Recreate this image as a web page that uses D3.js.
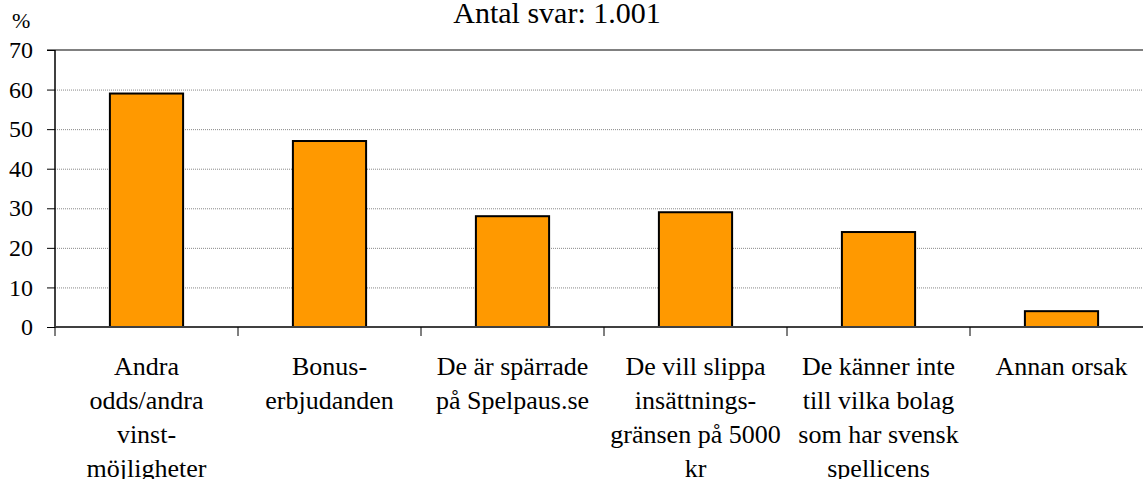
<!DOCTYPE html>
<html>
<head>
<meta charset="utf-8">
<script src="https://cdn.jsdelivr.net/npm/d3@7"></script>
<style>
  body { margin: 0; background: #fff; }
  text { font-family: "Liberation Serif", "Times New Roman", serif; fill: #000; }
</style>
</head>
<body>
<div id="chart"></div>
<script>
var categories = [
  ["Andra", "odds/andra", "vinst-", "möjligheter"],
  ["Bonus-", "erbjudanden"],
  ["De är spärrade", "på Spelpaus.se"],
  ["De vill slippa", "insättnings-", "gränsen på 5000", "kr"],
  ["De känner inte", "till vilka bolag", "som har svensk", "spellicens"],
  ["Annan orsak"]
];
var values = [59, 47, 28, 29, 24, 4];
var yTicks = [0, 10, 20, 30, 40, 50, 60, 70];
var title = "Antal svar: 1.001";

var width = 1143, height = 479;
var plotLeft = 55, plotRight = 1153, plotTop = 50, plotBottom = 327;
var serif = '"Liberation Serif", "Times New Roman", serif';

var svg = d3.select('#chart').append('svg')
  .attr('width', width)
  .attr('height', height);

var x = d3.scaleBand()
  .domain(d3.range(values.length))
  .range([plotLeft, plotRight])
  .paddingInner(0.6)
  .paddingOuter(0.3);

var xEdge = d3.scaleLinear()
  .domain([0, values.length])
  .range([plotLeft, plotRight]);

var y = d3.scaleLinear()
  .domain([0, 70])
  .range([plotBottom, plotTop]);

// gridlines
svg.append('g')
  .selectAll('line')
  .data(yTicks.filter(function(d) { return d > 0 && d < 70; }))
  .enter().append('line')
  .attr('x1', plotLeft).attr('x2', width)
  .attr('y1', function(d) { return y(d) + 0.5; })
  .attr('y2', function(d) { return y(d) + 0.5; })
  .style('stroke', '#888')
  .style('stroke-width', 1)
  .style('stroke-dasharray', '1,1');

// top border line
svg.append('line')
  .attr('x1', plotLeft - 8).attr('x2', width)
  .attr('y1', y(70)).attr('y2', y(70))
  .style('stroke', '#808080')
  .style('stroke-width', 2);

// bars
svg.append('g')
  .selectAll('rect')
  .data(values)
  .enter().append('rect')
  .attr('x', function(d, i) { return x(i); })
  .attr('width', x.bandwidth())
  .attr('y', function(d) { return y(d); })
  .attr('height', function(d) { return y(0) - y(d); })
  .style('fill', '#FF9900')
  .style('stroke', '#000')
  .style('stroke-width', 2);

// y axis
var yAxis = d3.axisLeft(y)
  .tickValues(yTicks)
  .tickSize(8)
  .tickPadding(14);

var gy = svg.append('g')
  .attr('transform', 'translate(' + plotLeft + ',0)')
  .call(yAxis);
gy.select('.domain').remove();
gy.selectAll('line').style('stroke', '#000');
gy.selectAll('text')
  .style('font-size', '24px')
  .style('font-family', serif);

svg.append('line')
  .attr('x1', plotLeft).attr('x2', plotLeft)
  .attr('y1', plotTop).attr('y2', plotBottom)
  .style('stroke', '#000')
  .style('stroke-width', 1.5);

// x axis line
svg.append('line')
  .attr('x1', plotLeft).attr('x2', width)
  .attr('y1', plotBottom).attr('y2', plotBottom)
  .style('stroke', '#404040')
  .style('stroke-width', 2);

// category ticks
svg.append('g')
  .selectAll('line')
  .data(d3.range(values.length + 1))
  .enter().append('line')
  .attr('x1', function(d) { return xEdge(d); })
  .attr('x2', function(d) { return xEdge(d); })
  .attr('y1', plotBottom)
  .attr('y2', plotBottom + 9)
  .style('stroke', '#000')
  .style('stroke-width', 1);

// category labels
var lab = svg.append('g')
  .selectAll('text')
  .data(categories)
  .enter().append('text')
  .attr('text-anchor', 'middle')
  .style('font-size', '26px')
  .style('font-family', serif)
  .attr('transform', function(d, i) {
    return 'translate(' + (x(i) + x.bandwidth() / 2) + ',' + 375 + ')';
  });
lab.selectAll('tspan')
  .data(function(d) { return d; })
  .enter().append('tspan')
  .attr('x', 0)
  .attr('y', function(d, i) { return i * 34; })
  .text(function(d) { return d; });

// title and unit
svg.append('text')
  .attr('x', 557).attr('y', 23)
  .attr('text-anchor', 'middle')
  .style('font-size', '30px')
  .style('font-family', serif)
  .text(title);

svg.append('text')
  .attr('x', 12).attr('y', 28)
  .style('font-size', '22px')
  .style('font-family', serif)
  .text('%');
</script>
</body>
</html>
